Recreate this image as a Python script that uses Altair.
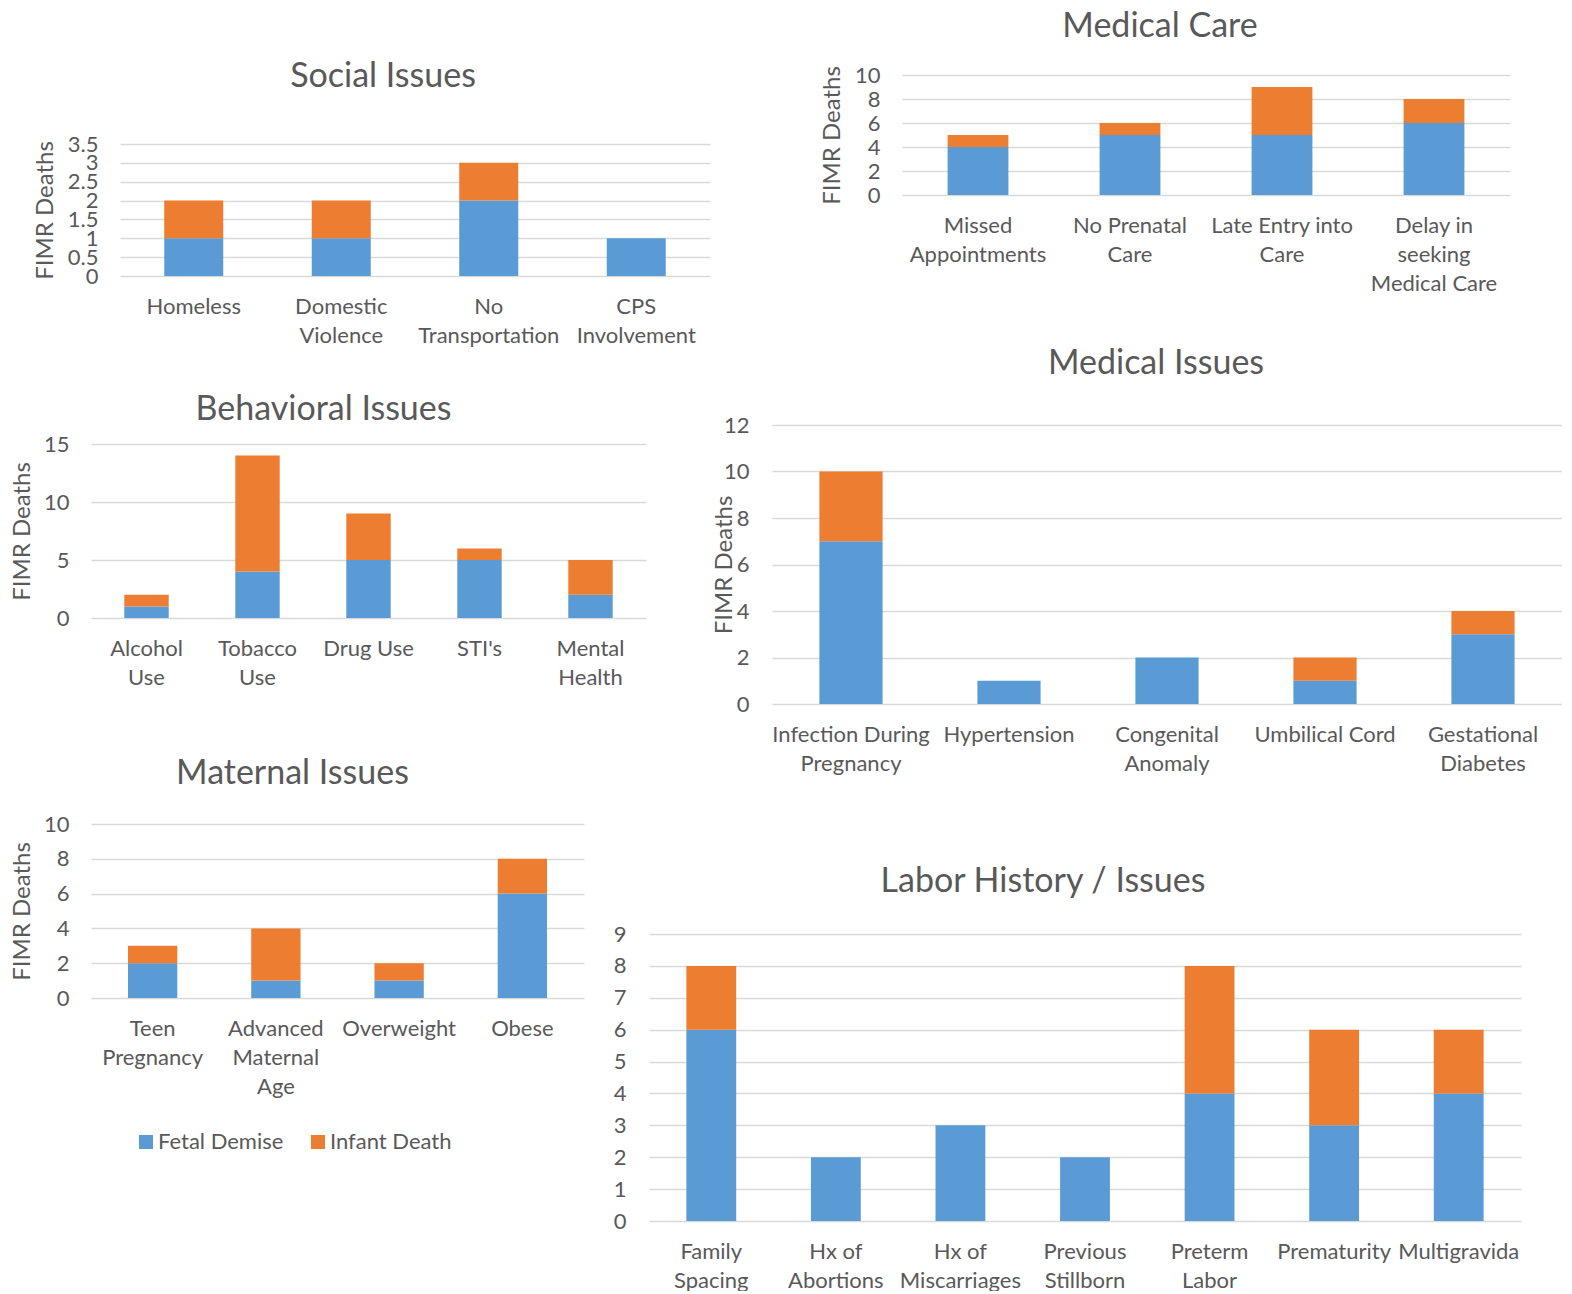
import altair as alt
import pandas as pd

SERIES = ["Fetal Demise", "Infant Death"]
COLORS = ["#5B9BD5", "#ED7D31"]
TXT = "#595959"
GRID = "#D9D9D9"
FONT = "Lato"

# ---- data (category labels use "|" for line breaks) ----
social_cats = ["Homeless", "Domestic|Violence", "No|Transportation", "CPS|Involvement"]
social_fetal = [1, 1, 2, 1]
social_infant = [1, 1, 1, 0]
social_ticks = [0, 0.5, 1, 1.5, 2, 2.5, 3, 3.5]

care_cats = ["Missed|Appointments", "No Prenatal|Care", "Late Entry into|Care",
             "Delay in|seeking|Medical Care"]
care_fetal = [4, 5, 5, 6]
care_infant = [1, 1, 4, 2]
care_ticks = [0, 2, 4, 6, 8, 10]

beh_cats = ["Alcohol|Use", "Tobacco|Use", "Drug Use", "STI's", "Mental|Health"]
beh_fetal = [1, 4, 5, 5, 2]
beh_infant = [1, 10, 4, 1, 3]
beh_ticks = [0, 5, 10, 15]

med_cats = ["Infection During|Pregnancy", "Hypertension", "Congenital|Anomaly",
            "Umbilical Cord", "Gestational|Diabetes"]
med_fetal = [7, 1, 2, 1, 3]
med_infant = [3, 0, 0, 1, 1]
med_ticks = [0, 2, 4, 6, 8, 10, 12]

mat_cats = ["Teen|Pregnancy", "Advanced|Maternal|Age", "Overweight", "Obese"]
mat_fetal = [2, 1, 1, 6]
mat_infant = [1, 3, 1, 2]
mat_ticks = [0, 2, 4, 6, 8, 10]

lab_cats = ["Family|Spacing", "Hx of|Abortions", "Hx of|Miscarriages", "Previous|Stillborn",
            "Preterm|Labor", "Prematurity", "Multigravida"]
lab_fetal = [6, 2, 3, 2, 4, 3, 4]
lab_infant = [2, 0, 0, 0, 4, 3, 2]
lab_ticks = [0, 1, 2, 3, 4, 5, 6, 7, 8, 9]


def panel(title, cats, fetal, infant, ticks, w, h, dx, toff, ytx=None, legend=None, ypad=22):
    rows = []
    for c, f, i in zip(cats, fetal, infant):
        if f > 0:
            rows.append({"cat": c, "series": SERIES[0], "ord": 0, "v": f})
        if i > 0:
            rows.append({"cat": c, "series": SERIES[1], "ord": 1, "v": i})
    df = pd.DataFrame(rows)
    yax = dict(values=ticks, format=".1~f", grid=True, gridColor=GRID, gridWidth=1.3,
               domain=False, ticks=False, labelPadding=ypad, labelOverlap=False,
               labelFontSize=22, labelColor=TXT, labelFont=FONT, labelFlush=False)
    if ytx is not None:
        yax.update(title="FIMR Deaths", titleX=ytx, titleBaseline="middle",
                   titleFontSize=24, titleFontWeight="normal", titleColor=TXT,
                   titleFont=FONT)
    else:
        yax.update(title=None)
    enc = dict(
        x=alt.X("cat:N", sort=cats,
                scale=alt.Scale(paddingInner=0.6, paddingOuter=0.3),
                axis=alt.Axis(title=None, labelAngle=0, labelExpr="split(datum.label, '|')",
                              domain=False, ticks=False, grid=False, labelPadding=20,
                              labelLineHeight=29, labelFontSize=22, labelColor=TXT,
                              labelFont=FONT, labelLimit=0, labelBaseline="top")),
        y=alt.Y("v:Q", stack="zero",
                scale=alt.Scale(domain=[0, ticks[-1]], nice=False, zero=True),
                axis=alt.Axis(**yax)),
        color=alt.Color("series:N", scale=alt.Scale(domain=SERIES, range=COLORS),
                        legend=legend),
        order=alt.Order("ord:Q", sort="ascending"),
    )
    return (
        alt.Chart(df, title=alt.TitleParams(title, fontSize=34, fontWeight="normal",
                                            color=TXT, font=FONT, anchor="middle",
                                            dx=dx, offset=toff, baseline="alphabetic"))
        .mark_bar()
        .encode(**enc)
        .properties(width=w, height=h)
    )


def spacer(w, h):
    return (
        alt.Chart(pd.DataFrame({"s": [0]}))
        .mark_point(opacity=0, size=0, strokeWidth=0)
        .encode(x=alt.value(0), y=alt.value(0))
        .properties(width=w, height=h)
    )


def place(chart, left, top):
    """Wrap a panel so its outer box starts `left` px right and `top` px down."""
    row = alt.concat(spacer(left, 1), chart, columns=2, align="none",
                     spacing=0).resolve_scale(color="independent")
    return alt.concat(spacer(1, top), row, columns=1, align="none",
                      spacing=0).resolve_scale(color="independent")


def pair(a, b):
    return alt.concat(a, b, columns=2, align="none", spacing=0).resolve_scale(
        color="independent")


social = panel("Social Issues", social_cats, social_fetal, social_infant, social_ticks,
               590, 132, -32, 12, ytx=-75)
care = panel("Medical Care", care_cats, care_fetal, care_infant, care_ticks,
             608, 120, -46, -6.5, ytx=-70)
beh = panel("Behavioral Issues", beh_cats, beh_fetal, beh_infant, beh_ticks,
            555, 174, -45, -21, ytx=-69)
med = panel("Medical Issues", med_cats, med_fetal, med_infant, med_ticks,
            790, 279, -11, 6, ytx=-48, ypad=23)
legend = alt.Legend(title=None, orient="none", legendX=44, legendY=307,
                    direction="horizontal", symbolType="square", symbolSize=196,
                    symbolStrokeWidth=0, labelFontSize=22, labelColor=TXT, labelFont=FONT,
                    labelOffset=1, columnPadding=23, padding=0)
mat = panel("Maternal Issues", mat_cats, mat_fetal, mat_infant, mat_ticks,
            493, 174, -45, -5, ytx=-69, legend=legend)
lab = panel("Labor History / Issues", lab_cats, lab_fetal, lab_infant, lab_ticks,
            872, 287, -42, -2.5, ypad=23)

row1 = pair(place(social, 25, 52), place(care, 110, 1))
row2 = pair(place(beh, 1, 72), place(med, 65, 26))
row3 = pair(place(mat, 1, 8), place(lab, 29, 115))

chart = (
    alt.concat(row1, row2, row3, columns=1, align="none", spacing=-25)
    .resolve_scale(color="independent")
    .properties(padding=0, background="white")
    .configure(font=FONT)
    .configure_view(stroke=None)
)

chart.save("out.html", embed_options={"renderer": "svg", "actions": False})
